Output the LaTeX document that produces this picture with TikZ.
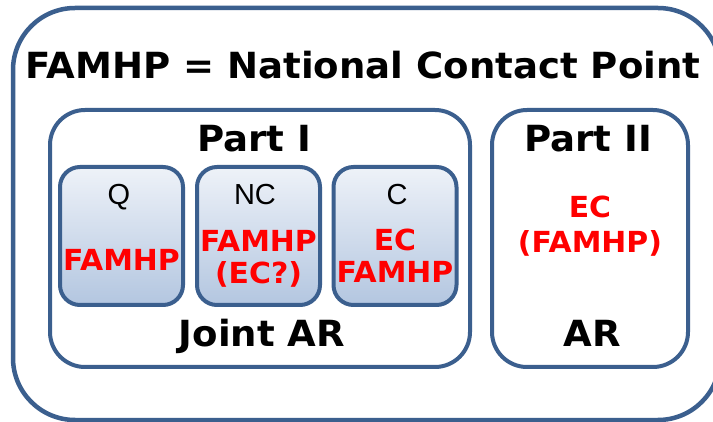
\documentclass[tikz,border=0pt]{standalone}
\usepackage{fontspec}
\setmainfont[FakeStretch=1.03]{DejaVu Sans}
\newfontfamily\arialf{Liberation Sans}
\definecolor{edge}{HTML}{3B5F8E}
\definecolor{topc}{HTML}{EEF2F8}
\definecolor{botc}{HTML}{B3C6E0}
\definecolor{redt}{HTML}{FF0000}
\tikzset{
  outerbox/.style={draw=edge, line width=4.5pt, rounded corners=62pt, rectangle, inner sep=0pt},
  partbox/.style={draw=edge, line width=4pt, rounded corners=35pt, rectangle, inner sep=0pt},
  smallbox/.style={draw=edge, line width=4pt, rounded corners=20pt, rectangle, inner sep=0pt,
     top color=topc, bottom color=botc, minimum width=123pt, minimum height=138pt},
  bigtxt/.style={anchor=base, inner sep=0pt, font=\bfseries\fontsize{36}{40}\selectfont},
  lettxt/.style={anchor=base, inner sep=0pt, font=\arialf\fontsize{29}{32}\selectfont},
  redtxt/.style={anchor=base, inner sep=0pt, text=redt, font=\bfseries\fontsize{29}{32}\selectfont},
}
\begin{document}
\begin{tikzpicture}[x=1pt,y=-1pt]
\useasboundingbox (0,0) rectangle (713,422);
\fill[white] (0,0) rectangle (713,422);
\node[outerbox, minimum width=707pt, minimum height=412pt] (outer) at (366.5,214) {};
\node[partbox, minimum width=420pt, minimum height=257pt] (p1) at (260,238.5) {};
\node[partbox, minimum width=196pt, minimum height=257pt] (p2) at (590,238.5) {};
\node[smallbox] (q) at (121.5,236) {};
\node[smallbox] (nc) at (258.5,236) {};
\node[smallbox] (c) at (395,236) {};
\node[bigtxt] (title) at (363,79) {FAMHP = National Contact Point};
\node[bigtxt] (p1t) at (254,152) {Part I};
\node[bigtxt] (p2t) at (588,152) {Part II};
\node[bigtxt] (jar) at (262,347) {Joint AR};
\node[bigtxt] (ar) at (592,347) {AR};
\node[lettxt] (qt) at (119,205) {Q};
\node[lettxt] (nct) at (255,205) {NC};
\node[lettxt] (ct) at (397,205) {C};
\node[redtxt] (qr) at (121.5,271) {FAMHP};
\node[redtxt] (ncr1) at (258.5,252) {FAMHP};
\node[redtxt] (ncr2) at (258.5,284) {(EC?)};
\node[redtxt] (cr1) at (395,251) {EC};
\node[redtxt] (cr2) at (395,283) {FAMHP};
\node[redtxt] (p2r1) at (590,218) {EC};
\node[redtxt] (p2r2) at (590,253) {(FAMHP)};
\end{tikzpicture}
\end{document}
